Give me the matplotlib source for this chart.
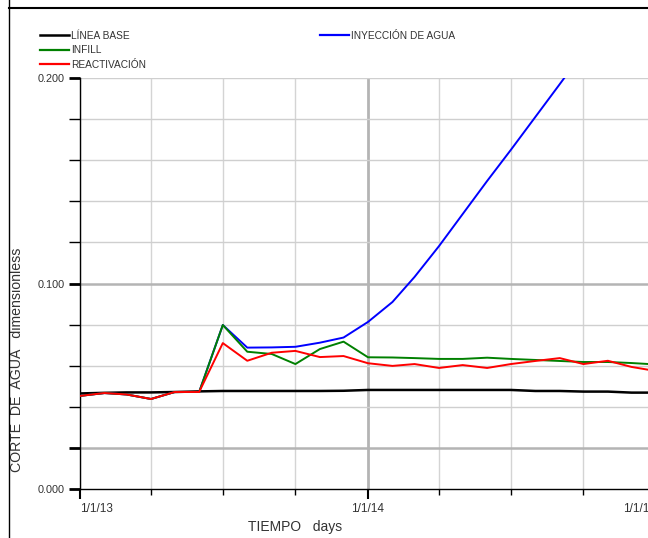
import datetime as dt
import matplotlib
matplotlib.use("Agg")
import matplotlib.pyplot as plt
import matplotlib.dates as mdates
from matplotlib.lines import Line2D

# Monthly dates, 1/1/13 .. 1/1/15
dates = [dt.date(2013 + (m // 12), m % 12 + 1, 1) for m in range(25)]

linea_base = [0.0465, 0.0468, 0.0470, 0.0470, 0.0472, 0.0475, 0.0477, 0.0477, 0.0477,
              0.0477, 0.0477, 0.0478, 0.0482, 0.0482, 0.0482, 0.0482, 0.0482, 0.0482,
              0.0482, 0.0477, 0.0477, 0.0474, 0.0474, 0.0469, 0.0469]
inyeccion = [0.0453, 0.0467, 0.0460, 0.0438, 0.0472, 0.0472, 0.0798, 0.0688, 0.0689,
             0.0692, 0.0712, 0.0737, 0.0813, 0.0910, 0.1032, 0.1182, 0.1338, 0.1499,
             0.1650, 0.1810, 0.1970, 0.2127, 0.2280, 0.2430, 0.2580]
infill = [0.0453, 0.0467, 0.0460, 0.0438, 0.0472, 0.0472, 0.0798, 0.0668, 0.0657,
          0.0608, 0.0681, 0.0717, 0.0641, 0.0640, 0.0637, 0.0633, 0.0633, 0.0639,
          0.0633, 0.0628, 0.0623, 0.0618, 0.0618, 0.0613, 0.0606]
reactivacion = [0.0453, 0.0467, 0.0460, 0.0438, 0.0472, 0.0472, 0.0710, 0.0624, 0.0663,
                0.0672, 0.0642, 0.0647, 0.0612, 0.0599, 0.0608, 0.0589, 0.0603, 0.0589,
                0.0608, 0.0623, 0.0637, 0.0608, 0.0624, 0.0594, 0.0574]

y_major = [0.0, 0.02, 0.1, 0.2]
y_major_labels = ["0.000", "", "0.100", "0.200"]
x_major = [dt.date(2013, 1, 1), dt.date(2014, 1, 1), dt.date(2015, 1, 1)]
x_major_labels = ["1/1/13", "1/1/14", "1/1/15"]

W, H = 648, 538
fig = plt.figure(figsize=(W / 100, H / 100), dpi=100)
plt.rcParams["font.family"] = ["Liberation Sans", "DejaVu Sans"]

left_px, right_px, top_px, bottom_px = 80, 656, 78, 489
ax = fig.add_axes([left_px / W, (H - bottom_px) / H,
                   (right_px - left_px) / W, (bottom_px - top_px) / H])

ax.set_xlim(mdates.date2num(dt.date(2013, 1, 1)), mdates.date2num(dt.date(2015, 1, 1)))
ax.set_ylim(0.0, 0.2)

# grid
for m in range(0, 25, 3):
    d = dates[m]
    strong = (m == 12)
    ax.axvline(mdates.date2num(d), color="#b4b4b4" if strong else "#d4d4d4",
               lw=2.0 if strong else 1.0, zorder=0)
for i in range(1, 11):
    v = i * 0.02
    strong = i in (1, 5)
    ax.axhline(v, color="#b4b4b4" if strong else "#cfcfcf",
               lw=1.8 if strong else 1.0, zorder=0)

xd = mdates.date2num(dates)
ax.plot(xd, linea_base, color="black", lw=1.8, zorder=3)
ax.plot(xd, inyeccion, color="#0000ff", lw=1.4, zorder=3)
ax.plot(xd, infill, color="#008000", lw=1.4, zorder=4)
ax.plot(xd, reactivacion, color="#ff0000", lw=1.4, zorder=5)

for s in ("top", "right"):
    ax.spines[s].set_visible(False)
for s in ("left", "bottom"):
    ax.spines[s].set_color("black")
    ax.spines[s].set_linewidth(1.0)

ax.set_yticks(y_major)
ax.set_yticklabels(y_major_labels)
ax.set_yticks([i * 0.02 for i in range(11)], minor=True)
ax.tick_params(axis="y", which="major", length=8, width=2.0, pad=3,
               labelsize=7.8, labelcolor="#333333")
ax.tick_params(axis="y", which="minor", length=8, width=1.0)

ax.set_xticks(mdates.date2num(x_major))
ax.set_xticklabels(x_major_labels)
ax.set_xticks(mdates.date2num([dates[m] for m in range(0, 25, 3)]), minor=True)
ax.tick_params(axis="x", which="major", length=7, width=1.5, pad=3,
               labelsize=8.5, labelcolor="#333333")
ax.tick_params(axis="x", which="minor", length=4, width=1.0)
xlabels = ax.get_xticklabels()
xlabels[0].set_ha("left")
xlabels[-1].set_ha("right")

ax.set_xlabel("TIEMPO   days", fontsize=10, color="#333333")
ax.xaxis.label.set_position(((295 - left_px) / (right_px - left_px), 0))
ax.xaxis.labelpad = 4
ax.set_ylabel("CORTE  DE  AGUA   dimensionless", fontsize=10.2, color="#333333")
ax.yaxis.set_label_coords(-(80 - 24) / (right_px - left_px), (bottom_px - 360) / (bottom_px - top_px))

# legend
leg1 = fig.legend(handles=[Line2D([], [], color="black", lw=1.8, label="LÍNEA BASE"),
                           Line2D([], [], color="#008000", lw=1.6, label="INFILL"),
                           Line2D([], [], color="#ff0000", lw=1.6, label="REACTIVACIÓN")],
                  loc="upper left", bbox_to_anchor=(40 / W, 1 - 31 / H), frameon=False,
                  fontsize=7.3, handlelength=2.9, handletextpad=0.2, labelspacing=0.42,
                  borderaxespad=0, borderpad=0)
leg2 = fig.legend(handles=[Line2D([], [], color="#0000ff", lw=1.6, label="INYECCIÓN DE AGUA")],
                  loc="upper left", bbox_to_anchor=(320 / W, 1 - 31 / H), frameon=False,
                  fontsize=7.3, handlelength=2.9, handletextpad=0.2, borderaxespad=0, borderpad=0)
for lg in (leg1, leg2):
    for t in lg.get_texts():
        t.set_color("#333333")

# panel border
fig.add_artist(Line2D([9 / W, 9 / W], [0, 1], transform=fig.transFigure, color="black", lw=1.0))
fig.add_artist(Line2D([9 / W, 1], [1 - 8 / H, 1 - 8 / H], transform=fig.transFigure, color="black", lw=1.5))

fig.savefig("out.png", dpi=100)
